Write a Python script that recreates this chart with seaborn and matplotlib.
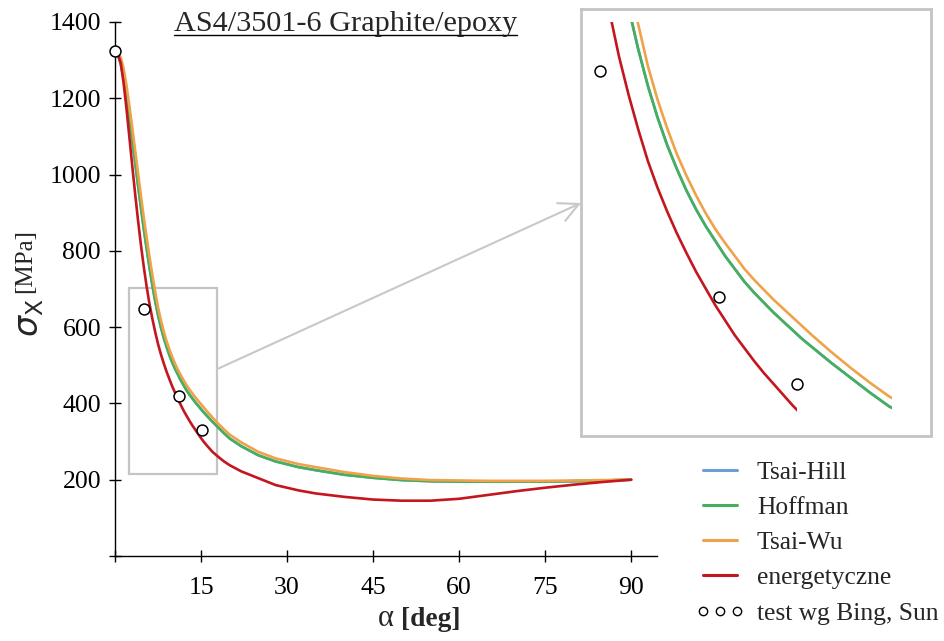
import matplotlib
matplotlib.use("Agg")
import matplotlib.pyplot as plt
from matplotlib.patches import Rectangle
from matplotlib.lines import Line2D
from matplotlib.transforms import IdentityTransform
import pandas as pd
import seaborn as sns

# Off-axis angle [deg] and failure stress sigma_X [MPa] for each criterion
alpha_deg = [0, 0.5, 1, 1.5, 2, 2.5, 3, 3.5, 4, 4.5, 5, 5.5, 6, 6.5, 7, 7.5, 8, 8.5, 9, 9.5,
             10, 10.5, 11, 11.5, 12, 12.5, 13, 13.5, 14, 14.5, 15, 15.5, 16,
             17, 18, 19, 20, 22, 25, 28, 32, 35, 40, 45, 50, 55, 60, 65, 70, 75, 80, 85, 90]

tsai_hill = [1325, 1315, 1290, 1254, 1205, 1150, 1092, 1033, 974, 916, 860, 808, 758, 711, 669,
             632, 600, 572, 548, 526, 507, 490, 475, 460, 447, 434, 423, 413, 403, 394, 385,
             376, 368, 352, 337, 322, 308, 288, 264, 248, 233, 225, 213, 205, 199, 196, 195,
             195, 195, 195, 196, 198, 200]
hoffman = [1325, 1315, 1290, 1254, 1205, 1150, 1092, 1033, 974, 916, 860, 808, 758, 711, 669,
           632, 600, 572, 548, 526, 507, 490, 475, 460, 447, 434, 423, 413, 403, 394, 385,
           376, 368, 352, 337, 322, 308, 288, 264, 248, 233, 225, 213, 205, 199, 196, 195,
           195, 195, 195, 196, 198, 200]
tsai_wu = [1325, 1321, 1307, 1278, 1234, 1181, 1124, 1065, 1006, 947, 890, 837, 786, 738, 694,
           652, 618, 589, 563, 541, 521, 503, 487, 473, 460, 447, 436, 426, 416, 407, 398,
           389, 380, 363, 347, 332, 318, 298, 273, 256, 241, 233, 220, 210, 203, 199, 198,
           197, 197, 197, 198, 199, 200]
energetyczne = [1325, 1316, 1293, 1240, 1173, 1099, 1024, 951, 882, 818, 760, 708, 662, 623,
                588, 556, 529, 505, 483, 463, 444, 427, 410, 395, 380, 367, 354, 342, 331, 320,
                309, 299, 290, 273, 260, 248, 238, 222, 204, 186, 172, 164, 155, 148, 145, 145,
                150, 160, 170, 179, 187, 194, 200]

# Experimental points (Bing, Sun)
test_alpha = [0, 5, 11.2, 15.2]
test_sigma = [1325, 647, 419, 331]

series_names = ["Tsai-Hill", "Hoffman", "Tsai-Wu", "energetyczne"]
series_values = [tsai_hill, hoffman, tsai_wu, energetyczne]
series_colors = ["#6F9BD6", "#45B05C", "#EFA24A", "#C3161F"]
# how far each curve is drawn in the magnified view
zoom_end_alpha = [20.12, 20.12, 20.12, 15.21]

df = pd.DataFrame({
    "alpha": alpha_deg * len(series_names),
    "sigma": sum(series_values, []),
    "criterion": [n for n in series_names for _ in alpha_deg],
})

sns.set_style("white")
plt.rcParams["font.family"] = ["Liberation Serif", "DejaVu Serif"]
plt.rcParams["mathtext.fontset"] = "dejavusans"

W, H = 945, 641
fig = plt.figure(figsize=(W / 100, H / 100), dpi=100)
fig.patch.set_facecolor("white")

# ---------------- main axes ----------------
ax = fig.add_axes([115 / W, 85 / H, 542 / W, 534 / H])
ax.set_facecolor("white")
for name, color in zip(series_names, series_colors):
    sns.lineplot(data=df[df["criterion"] == name], x="alpha", y="sigma", color=color,
                 linewidth=1.9, estimator=None, sort=False, ax=ax, zorder=3)
sns.scatterplot(x=test_alpha, y=test_sigma, marker="o", s=62, color="white",
                edgecolor="black", linewidth=1.1, ax=ax, zorder=5, clip_on=False)

ax.set_xlim(0, 94.5)
ax.set_ylim(0, 1400)
ax.set_xticks([0, 15, 30, 45, 60, 75, 90])
ax.set_xticklabels(["", "15", "30", "45", "60", "75", "90"])
ax.set_yticks(range(0, 1401, 200))
ax.set_yticklabels([""] + [str(v) for v in range(200, 1401, 200)])
ax.set_xlabel("")
ax.set_ylabel("")
for side in ("top", "right"):
    ax.spines[side].set_visible(False)
for side in ("left", "bottom"):
    ax.spines[side].set_color("black")
    ax.spines[side].set_linewidth(1.0)
ax.tick_params(axis="both", which="major", bottom=True, left=True, direction="inout",
               length=8, width=1.0, colors="black", labelsize=18.5)
ax.tick_params(axis="x", pad=11)
ax.tick_params(axis="y", pad=6)

# highlighted region
ax.add_patch(Rectangle((2.44, 215), 15.36, 488, fill=False, edgecolor="#C4C4C4",
                       linewidth=1.6, zorder=2))
ax.annotate("", xy=(581 / W, 1 - 203 / H), xycoords="figure fraction",
            xytext=(17.8, 490), textcoords="data",
            arrowprops=dict(arrowstyle="->,head_length=0.7,head_width=0.35",
                            mutation_scale=20, color="#C8C8C8", lw=1.5,
                            shrinkA=0, shrinkB=0))

# ---------------- magnified view ----------------
ax_in = fig.add_axes([581 / W, (H - 435.5) / H, 350 / W, 427 / H])
ax_in.set_facecolor("white")
for name, color, end in zip(series_names, series_colors, zoom_end_alpha):
    sns.lineplot(data=df[df["criterion"] == name], x="alpha", y="sigma", color=color,
                 linewidth=1.9, estimator=None, sort=False, ax=ax_in, zorder=3)
    ax_in.lines[-1].set_clip_path(Rectangle((0, 0), end, 696.5, transform=ax_in.transData))
sns.scatterplot(x=test_alpha, y=test_sigma, marker="o", s=62, color="white",
                edgecolor="black", linewidth=1.1, ax=ax_in, zorder=5)
ax_in.set_xlim(4.04, 22.16)
ax_in.set_ylim(278.7, 709.9)
ax_in.set_xticks([])
ax_in.set_yticks([])
ax_in.set_xlabel("")
ax_in.set_ylabel("")
for sp in ax_in.spines.values():
    sp.set_visible(True)
    sp.set_color("#C4C4C4")
    sp.set_linewidth(2.0)

# ---------------- axis labels ----------------
fig.text(386 / W, 1 - 626 / H, "α", ha="center", va="baseline", fontsize=22)
fig.text(401 / W, 1 - 626 / H, "[deg]", ha="left", va="baseline", fontsize=19.8,
         fontweight="bold")
fig.text(25 / W, 1 - 261 / H, "[MPa]", ha="center", va="center", rotation=90, fontsize=18)
fig.text(31 / W, 1 - 318 / H, r"$\sigma_{\mathrm{X}}$", ha="center", va="center",
         rotation=90, fontsize=24)

# ---------------- legend ----------------
handles = [Line2D([], [], color=c, lw=2.2) for c in series_colors]
handles.append(Line2D([], [], ls="none", marker="o", ms=6, mfc="white", mec="black",
                      mew=1.0))
labels = series_names + ["test wg Bing, Sun"]
fig.legend(handles, labels, loc="upper left", bbox_to_anchor=(695 / W, 1 - 461 / H),
           frameon=False, numpoints=3, handlelength=1.95, handletextpad=0.47,
           labelspacing=0.48, borderpad=0, borderaxespad=0, fontsize=18.4)

# ---------------- underlined title ----------------
title = fig.text(345.5 / W, 1 - 31 / H, "AS4/3501-6 Graphite/epoxy", ha="center",
                 va="baseline", fontsize=21.8)
fig.canvas.draw()
bb = title.get_window_extent()
fig.add_artist(Line2D([bb.x0, bb.x1], [H - 35, H - 35], transform=IdentityTransform(),
                      color="black", lw=1.0))

fig.savefig("out.png", dpi=100, facecolor="white")
